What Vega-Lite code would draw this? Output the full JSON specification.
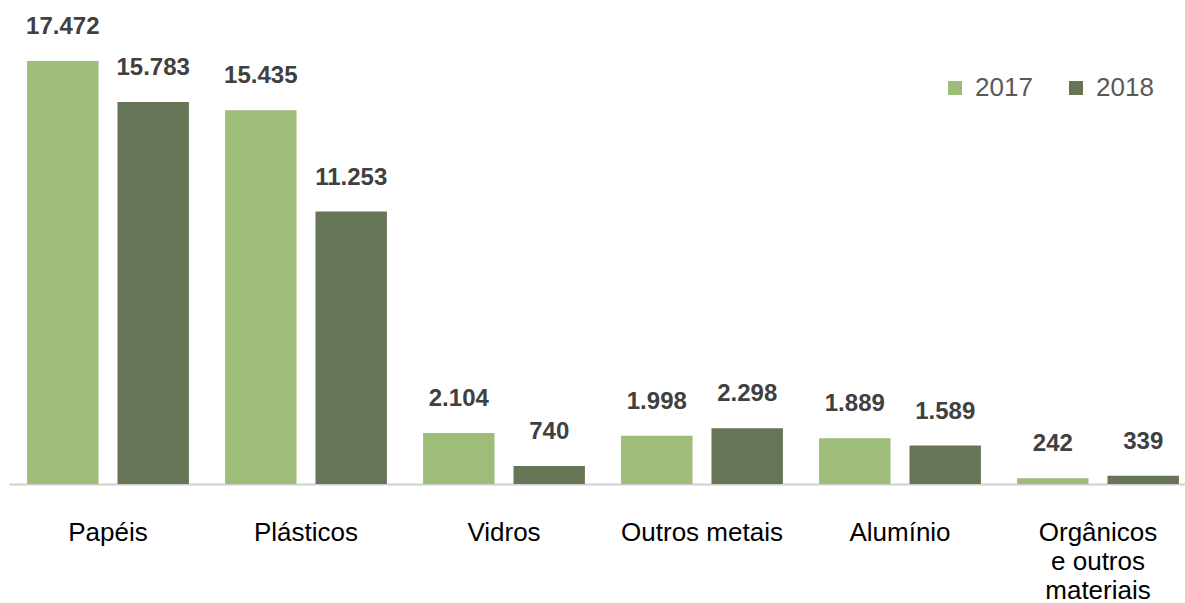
{
  "$schema": "https://vega.github.io/schema/vega-lite/v6.json",
  "autosize": {"type": "none"},
  "padding": {"left": 9, "top": 61, "right": 0, "bottom": 119},
  "width": 1176,
  "height": 423,
  "background": "white",
  "config": {
    "view": {"stroke": null},
    "font": "Liberation Sans",
    "locale": {"number": {"decimal": ",", "thousands": ".", "grouping": [3], "currency": ["R$", ""]}}
  },
  "data": {
    "values": [
      {"material": "Papéis", "ano": "2017", "valor": 17472},
      {"material": "Papéis", "ano": "2018", "valor": 15783},
      {"material": "Plásticos", "ano": "2017", "valor": 15435},
      {"material": "Plásticos", "ano": "2018", "valor": 11253},
      {"material": "Vidros", "ano": "2017", "valor": 2104},
      {"material": "Vidros", "ano": "2018", "valor": 740},
      {"material": "Outros metais", "ano": "2017", "valor": 1998},
      {"material": "Outros metais", "ano": "2018", "valor": 2298},
      {"material": "Alumínio", "ano": "2017", "valor": 1889},
      {"material": "Alumínio", "ano": "2018", "valor": 1589},
      {"material": "Orgânicos|e outros|materiais", "ano": "2017", "valor": 242},
      {"material": "Orgânicos|e outros|materiais", "ano": "2018", "valor": 339}
    ]
  },
  "encoding": {
    "x": {
      "field": "material",
      "type": "nominal",
      "sort": null,
      "scale": {"range": [0, 1188], "paddingInner": 0, "paddingOuter": 0},
      "axis": {
        "title": null,
        "labelAngle": 0,
        "ticks": false,
        "domainColor": "#D0D0D0",
        "domainWidth": 2,
        "labelFontSize": 26,
        "labelColor": "#000000",
        "labelPadding": 35,
        "labelLineHeight": 29,
        "labelExpr": "split(datum.label, '|')",
        "labelLimit": 300
      }
    },
    "xOffset": {
      "field": "ano",
      "type": "nominal",
      "scale": {"paddingInner": 0.21, "paddingOuter": 0.2}
    },
    "y": {
      "field": "valor",
      "type": "quantitative",
      "scale": {"domain": [0, 17472], "nice": false},
      "axis": null
    }
  },
  "layer": [
    {
      "mark": {"type": "bar"},
      "encoding": {
        "color": {
          "field": "ano",
          "type": "nominal",
          "scale": {"domain": ["2017", "2018"], "range": ["#9DBD79", "#667556"]},
          "legend": {
            "title": null,
            "orient": "none",
            "legendX": 933,
            "legendY": 14,
            "direction": "horizontal",
            "symbolType": "square",
            "symbolSize": 196,
            "symbolStrokeWidth": 0,
            "labelFontSize": 26,
            "labelColor": "#595959",
            "labelOffset": 7,
            "columnPadding": 30
          }
        }
      }
    },
    {
      "mark": {"type": "text", "baseline": "middle", "dy": -34, "fontSize": 24, "fontWeight": "bold", "color": "#404040"},
      "encoding": {
        "text": {"field": "valor", "type": "quantitative", "format": ",d"}
      }
    }
  ]
}
